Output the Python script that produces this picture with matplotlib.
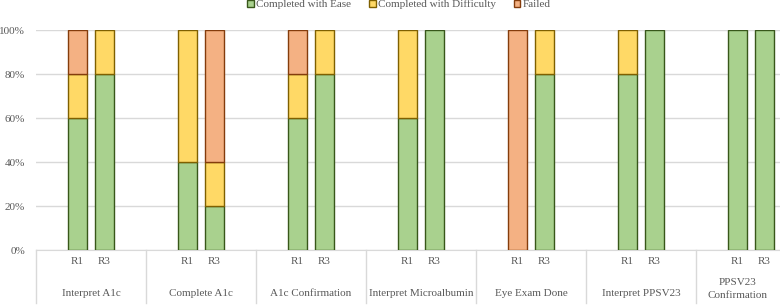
import matplotlib.pyplot as plt
import matplotlib.transforms as mtransforms
from matplotlib.patches import Patch

plt.rcParams['font.family'] = ['Liberation Serif', 'DejaVu Serif']

tasks = ['Interpret A1c', 'Complete A1c', 'A1c Confirmation', 'Interpret Microalbumin',
         'Eye Exam Done', 'Interpret PPSV23', 'PPSV23\nConfirmation']
rounds = ['R1', 'R3']
# percentages per task, order R1, R3
ease = [[60, 80], [40, 20], [60, 80], [60, 100], [0, 80], [80, 100], [100, 100]]
difficulty = [[20, 20], [60, 20], [20, 20], [40, 0], [0, 20], [20, 0], [0, 0]]
failed = [[20, 0], [0, 60], [20, 0], [0, 0], [100, 0], [0, 0], [0, 0]]

series = [('Completed with Ease', ease, '#A9D18E', '#38571A'),
          ('Completed with Difficulty', difficulty, '#FFD966', '#7F6000'),
          ('Failed', failed, '#F4B183', '#843C0C')]

fig = plt.figure(figsize=(7.8, 3.06), dpi=100)
ax = fig.add_axes([36/780, 56/306, 744/780, 220/306])

offsets = [0.377, 0.623]
w = 0.175
xs, xl = [], []
for i in range(len(tasks)):
    for j, r in enumerate(rounds):
        x = i + offsets[j]
        xs.append(x)
        xl.append(r)
        bottom = 0
        for name, vals, fc, ec in series:
            v = vals[i][j]
            if v > 0:
                ax.bar(x, v, w, bottom=bottom, color=fc, edgecolor=ec, linewidth=1, zorder=3)
            bottom += v

ax.set_xlim(0, 744/110)
ax.set_ylim(0, 100)
ax.set_yticks([0, 20, 40, 60, 80, 100])
ax.set_yticklabels(['%d%%' % t for t in [0, 20, 40, 60, 80, 100]])
ax.grid(axis='y', color='#D9D9D9', linewidth=1, zorder=0)
ax.set_xticks(xs)
ax.set_xticklabels(xl)
ax.tick_params(axis='both', length=0, labelsize=8, labelcolor='#595959')
ax.tick_params(axis='x', pad=5)
ax.tick_params(axis='y', pad=8)
for s in ['top', 'right', 'left']:
    ax.spines[s].set_visible(False)
ax.spines['bottom'].set_color('#D9D9D9')

trans = mtransforms.blended_transform_factory(ax.transData, ax.transAxes)
for i in range(len(tasks)):
    ax.plot([i, i], [0, -53/220], color='#D9D9D9', linewidth=1, transform=trans, clip_on=False)
for i, t in enumerate(tasks):
    if '\n' in t:
        cx = (695 + 780) / 2
        cx = (cx - 36) / 110
        ax.text(cx, -39/220, t, transform=trans, ha='center', va='center',
                fontsize=8, color='#595959', linespacing=1.5)
    else:
        ax.text(i + 0.5, -43/220, t, transform=trans, ha='center', va='center',
                fontsize=8, color='#595959')

handles = [Patch(facecolor=fc, edgecolor=ec, label=name) for name, vals, fc, ec in series]
fig.legend(handles=handles, loc='upper center', bbox_to_anchor=(399/780, 1.035), ncol=3,
           frameon=False, fontsize=8, handlelength=0.6, handleheight=0.6,
           handletextpad=0.2, columnspacing=1.6, labelcolor='#595959')

fig.savefig('out.png', dpi=100)
